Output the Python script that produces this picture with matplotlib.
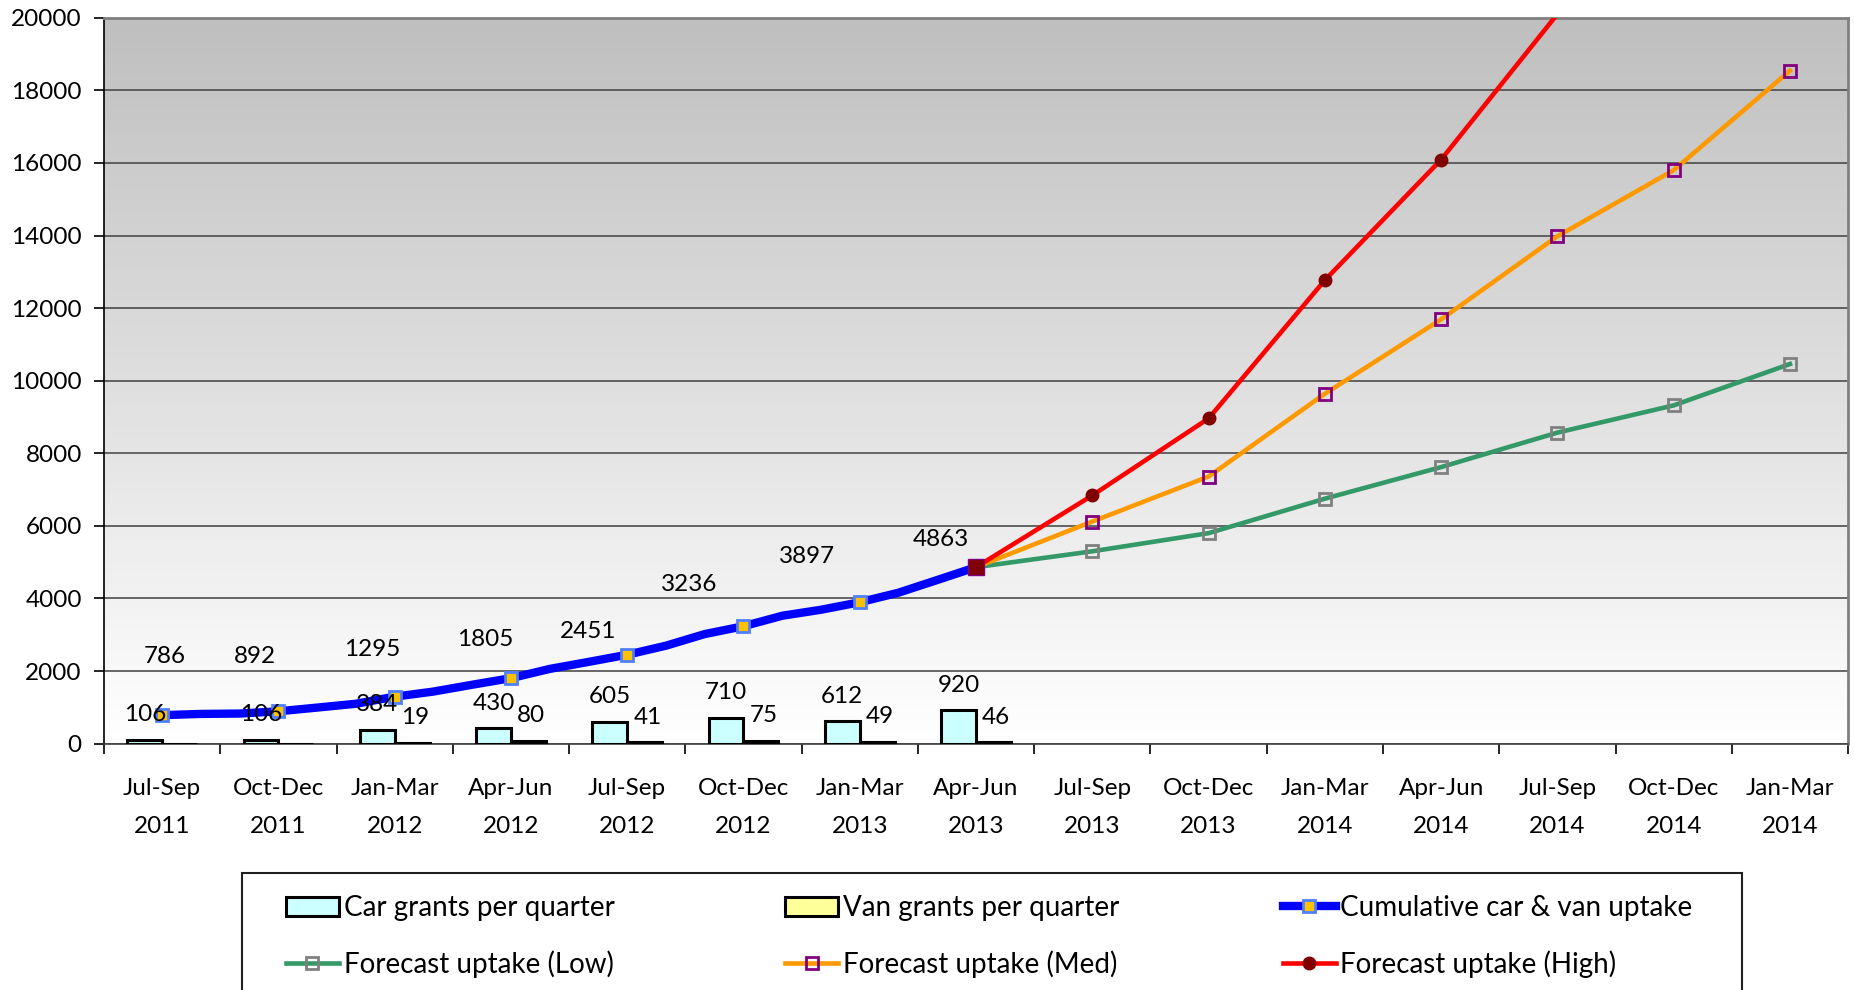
import numpy as np
import matplotlib
matplotlib.use("Agg")
import matplotlib.pyplot as plt
from matplotlib.colors import LinearSegmentedColormap
from matplotlib.lines import Line2D
from matplotlib.patches import Patch, Rectangle

plt.rcParams['font.family'] = ['Lato', 'DejaVu Sans']

# quarters on the x axis
quarters = ['Jul-Sep\n2011', 'Oct-Dec\n2011', 'Jan-Mar\n2012', 'Apr-Jun\n2012',
            'Jul-Sep\n2012', 'Oct-Dec\n2012', 'Jan-Mar\n2013', 'Apr-Jun\n2013',
            'Jul-Sep\n2013', 'Oct-Dec\n2013', 'Jan-Mar\n2014', 'Apr-Jun\n2014',
            'Jul-Sep\n2014', 'Oct-Dec\n2014', 'Jan-Mar\n2014']

# grants per quarter (first 8 quarters)
car_grants = [106, 106, 384, 430, 605, 710, 612, 920]
van_grants = [0, 0, 19, 80, 41, 75, 49, 46]

# cumulative uptake, monthly (markers at the quarter points)
cumulative_monthly = [786, 820, 830, 892, 995, 1100, 1295, 1436, 1624, 1805,
                      2060, 2253, 2451, 2700, 3020, 3236, 3525, 3690, 3897,
                      4160, 4510, 4863]
cumulative_quarter = [786, 892, 1295, 1805, 2451, 3236, 3897, 4863]

# forecasts from Apr-Jun 2013 onwards
forecast_low = [4863, 5300, 5800, 6750, 7620, 8570, 9320, 10460]
forecast_med = [4863, 6120, 7360, 9640, 11690, 13980, 15800, 18540]
forecast_high = [4863, 6840, 8960, 12770, 16090, 20100]

FS = 17.5
LW = 3.3

fig = plt.figure(figsize=(18.54, 9.9), dpi=100)
ax = fig.add_axes([0.0561, 0.2488, 0.9407, 0.7333])

# plot area gradient (grey at top to white at bottom)
cmap = LinearSegmentedColormap.from_list('bg', ['#ffffff', '#bfbfbf'])
grad = np.linspace(0, 1, 256).reshape(-1, 1)
ax.imshow(grad, cmap=cmap, aspect='auto', origin='lower',
          extent=[0, 1, 0, 1], transform=ax.transAxes, zorder=0)

x = np.arange(len(quarters))
n = len(car_grants)
w = 0.3
car_bars = ax.bar(x[:n] - w / 2, car_grants, w, color='#ccffff',
                  edgecolor='black', linewidth=2.2, zorder=3)
van_bars = ax.bar(x[:n] + w / 2, van_grants, w, color='#ffff99',
                  edgecolor='black', linewidth=2.2, zorder=3)

for b, v in zip(car_bars, car_grants):
    ax.annotate(str(v), (b.get_x() + b.get_width() / 2, v), xytext=(0, 18),
                textcoords='offset points', ha='center', va='center',
                fontsize=FS, zorder=6)
for b, v in zip(van_bars, van_grants):
    if v == 0:
        continue
    ax.annotate(str(v), (b.get_x() + b.get_width() / 2, v), xytext=(2, 18),
                textcoords='offset points', ha='center', va='center',
                fontsize=FS, zorder=6)

# cumulative line
xm = np.linspace(0, n - 1, len(cumulative_monthly))
ax.plot(xm, cumulative_monthly, color='#0000ff', lw=6, zorder=4,
        solid_capstyle='round')
ax.plot(x[:n], cumulative_quarter, ls='none', marker='s', ms=9,
        mfc='#ffc000', mec='#4f7fff', mew=2, zorder=5)

# labels on the cumulative points (placed as in the source chart)
cum_label_shift = [(0.02, 1624), (-0.2, 1518), (-0.19, 1311), (-0.22, 1061),
                   (-0.34, 643), (-0.47, 1161), (-0.45, 1250), (-0.3, 772)]
for i, v in enumerate(cumulative_quarter):
    dx, dy = cum_label_shift[i]
    ax.text(i + dx, v + dy, str(v), ha='center', va='center', fontsize=FS,
            zorder=6)

xf = x[n - 1:]
ax.plot(xf, forecast_low, color='#339966', lw=LW, marker='s', ms=9,
        mfc='none', mec='#808080', mew=2, zorder=4)
ax.plot(xf, forecast_med, color='#ff9900', lw=LW, marker='s', ms=9,
        mfc='none', mec='#800080', mew=2, zorder=4)
xh = x[n - 1:n - 1 + len(forecast_high)]
shown = [i for i, v in enumerate(forecast_high) if v <= 20000]
ax.plot(xh, forecast_high, color='#ff0000', lw=LW, marker='o', ms=9,
        mfc='#800000', mec='#800000', markevery=shown, zorder=4)
ax.plot(x[n - 1], cumulative_quarter[-1], marker='s', ms=11, mfc='#800000',
        mec='#800080', mew=1, zorder=5)

ax.set_xlim(-0.5, len(quarters) - 0.5)
ax.set_ylim(0, 20000)
ax.set_yticks(np.arange(0, 20001, 2000))
ax.tick_params(axis='y', labelsize=FS, length=7, width=1.2, pad=9)
ax.set_xticks(np.arange(-0.5, len(quarters), 1))
ax.set_xticklabels([])
ax.set_xticks(x, minor=True)
ax.set_xticklabels(quarters, minor=True, fontsize=FS, linespacing=1.95)
ax.tick_params(axis='x', which='major', length=7, width=1.2)
ax.tick_params(axis='x', which='minor', length=0, pad=25)
ax.grid(axis='y', color='#404040', lw=1.1, zorder=1)
ax.set_axisbelow(True)
for s in ['top', 'right']:
    ax.spines[s].set_color('#808080')
    ax.spines[s].set_linewidth(2)
ax.spines['left'].set_linewidth(1.2)
ax.spines['bottom'].set_color('#404040')
ax.spines['bottom'].set_linewidth(1.2)

# legend: frame plus one legend per column
fig.patches.append(Rectangle((0.1307, -0.02), 0.8089, 0.138,
                             transform=fig.transFigure, fill=False,
                             edgecolor='#202020', lw=1.5))
leg_cols = [
    ([Patch(facecolor='#ccffff', edgecolor='black', lw=2.2),
      Line2D([], [], color='#339966', lw=LW, marker='s', ms=9, mfc='none',
             mec='#808080', mew=2)],
     ['Car grants per quarter', 'Forecast uptake (Low)']),
    ([Patch(facecolor='#ffff99', edgecolor='black', lw=2.2),
      Line2D([], [], color='#ff9900', lw=LW, marker='s', ms=9, mfc='none',
             mec='#800080', mew=2)],
     ['Van grants per quarter', 'Forecast uptake (Med)']),
    ([Line2D([], [], color='#0000ff', lw=6, marker='s', ms=9, mfc='#ffc000',
             mec='#4f7fff', mew=2),
      Line2D([], [], color='#ff0000', lw=LW, marker='o', ms=9, mfc='#800000',
             mec='#800000')],
     ['Cumulative car & van uptake', 'Forecast uptake (High)']),
]
col_x = [0.1543, 0.4235, 0.6920]
for (h, l), cx in zip(leg_cols, col_x):
    fig.legend(h, l, loc='upper left', bbox_to_anchor=(cx, 0.096),
               frameon=False, fontsize=20, handlelength=1.9,
               handletextpad=0.17, labelspacing=1.05, borderpad=0,
               borderaxespad=0)

fig.savefig('out.png', dpi=100)
